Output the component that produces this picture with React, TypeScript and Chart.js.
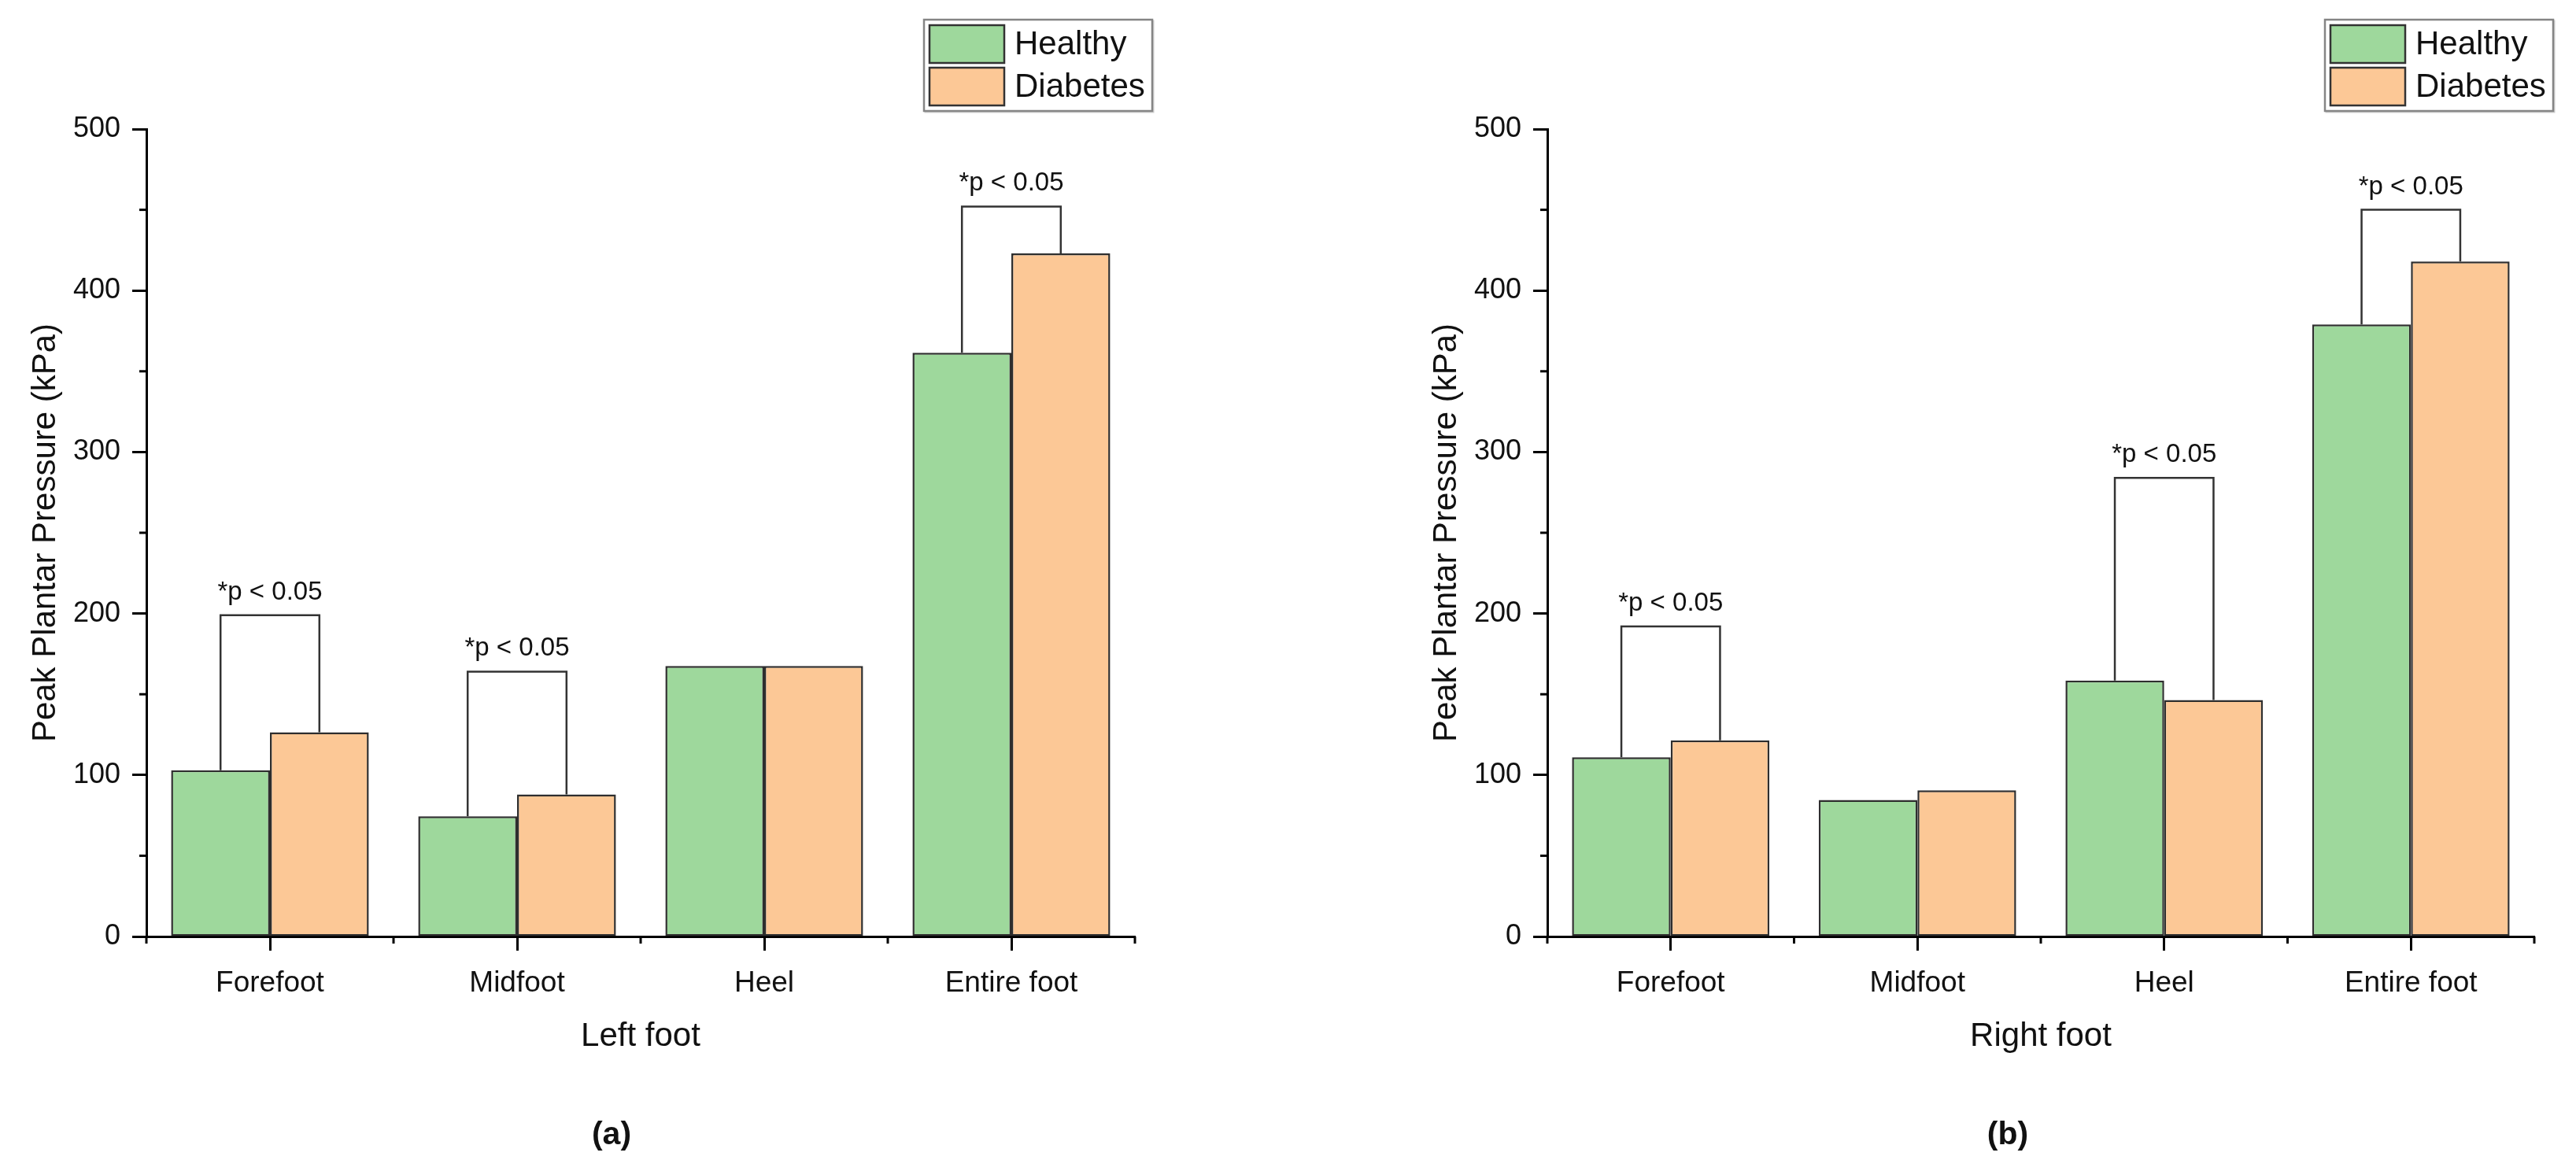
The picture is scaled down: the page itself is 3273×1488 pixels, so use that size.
import React, { useEffect, useRef } from "react";
import { Chart, registerables } from "chart.js";

Chart.register(...registerables);

// ---------- data ----------
const categories = ["Forefoot", "Midfoot", "Heel", "Entire foot"];
const seriesNames = ["Healthy", "Diabetes"];
const leftHealthy = [103, 74.5, 167.5, 361.5];
const leftDiabetes = [126.5, 88, 167.5, 423];
const leftBrackets: (number | null)[] = [199, 164, null, 452];
const rightHealthy = [111, 84.5, 158.5, 379];
const rightDiabetes = [121.5, 90.5, 146.5, 418];
const rightBrackets: (number | null)[] = [192, null, 284, 450];
const yTicks = [0, 100, 200, 300, 400, 500];
const sigLabel = "*p < 0.05";
const xTitles = ["Left foot", "Right foot"];
const panelTags = ["(a)", "(b)"];
const yTitle = "Peak Plantar Pressure (kPa)";

// ---------- style ----------
const FONT = "'Liberation Sans', Arial, sans-serif";
const GREEN = "#9ED89C";
const ORANGE = "#FCC896";
const BAR_BORDER = "#2e2e2e";
const TEXT = "#111111";

function makeConfig(
  healthy: number[],
  diabetes: number[],
  brackets: (number | null)[],
  xTitle: string,
  padRight: number
): any {
  const extras = {
    id: "extras",
    afterDatasetsDraw(chart: any) {
      const ctx = chart.ctx;
      const y = chart.scales.y;
      const m0 = chart.getDatasetMeta(0);
      const m1 = chart.getDatasetMeta(1);
      ctx.save();
      ctx.strokeStyle = "#333";
      ctx.lineWidth = 2.5;
      ctx.fillStyle = TEXT;
      ctx.font = `33px ${FONT}`;
      ctx.textAlign = "center";
      ctx.textBaseline = "alphabetic";
      brackets.forEach((b, j) => {
        if (b == null) return;
        const a = m0.data[j];
        const c = m1.data[j];
        const top = y.getPixelForValue(b);
        ctx.beginPath();
        ctx.moveTo(a.x, a.y);
        ctx.lineTo(a.x, top);
        ctx.lineTo(c.x, top);
        ctx.lineTo(c.x, c.y);
        ctx.stroke();
        ctx.fillText(sigLabel, (a.x + c.x) / 2, top - 20);
      });
      ctx.restore();
    },
    afterDraw(chart: any) {
      const ctx = chart.ctx;
      const { left, bottom } = chart.chartArea;
      const x = chart.scales.x;
      const y = chart.scales.y;
      ctx.save();
      ctx.strokeStyle = "#000";
      ctx.lineWidth = 3;
      // minor y ticks
      for (let k = 0; k < yTicks.length - 1; k++) {
        const py = y.getPixelForValue((yTicks[k] + yTicks[k + 1]) / 2);
        ctx.beginPath();
        ctx.moveTo(left - 9, py);
        ctx.lineTo(left, py);
        ctx.stroke();
      }
      // minor x ticks at category boundaries
      for (let j = 0; j <= categories.length; j++) {
        const px = x.getPixelForValue(j - 0.5);
        ctx.beginPath();
        ctx.moveTo(px, bottom);
        ctx.lineTo(px, bottom + 9);
        ctx.stroke();
      }
      // legend
      const L = left + 988;
      const T = 25;
      const W = 290;
      const H = 116;
      ctx.strokeStyle = "#d0d0d0";
      ctx.lineWidth = 2;
      ctx.strokeRect(L + 1.5, T + 1.5, W, H);
      ctx.strokeStyle = "#858585";
      ctx.lineWidth = 2.5;
      ctx.fillStyle = "#fff";
      ctx.fillRect(L, T, W, H);
      ctx.strokeRect(L, T, W, H);
      chart.data.datasets.forEach((ds: any, i: number) => {
        const sy = T + 7 + i * 54;
        ctx.fillStyle = ds.backgroundColor;
        ctx.fillRect(L + 7, sy, 95, 48);
        ctx.strokeStyle = "#333";
        ctx.lineWidth = 2.5;
        ctx.strokeRect(L + 7, sy, 95, 48);
        ctx.fillStyle = TEXT;
        ctx.font = `42px ${FONT}`;
        ctx.textAlign = "left";
        ctx.textBaseline = "middle";
        ctx.fillText(ds.label, L + 115, sy + 25);
      });
      ctx.restore();
    },
  };

  return {
    type: "bar",
    data: {
      labels: categories,
      datasets: [
        {
          label: seriesNames[0],
          data: healthy,
          backgroundColor: GREEN,
          borderColor: BAR_BORDER,
          borderWidth: 2.5,
          borderSkipped: false,
        },
        {
          label: seriesNames[1],
          data: diabetes,
          backgroundColor: ORANGE,
          borderColor: BAR_BORDER,
          borderWidth: 2.5,
          borderSkipped: false,
        },
      ],
    },
    options: {
      responsive: false,
      animation: false,
      devicePixelRatio: 1,
      layout: { padding: { top: 164, left: 0, right: padRight, bottom: 128 } },
      datasets: { bar: { categoryPercentage: 0.8, barPercentage: 1.0 } },
      plugins: { legend: { display: false }, tooltip: { enabled: false }, title: { display: false } },
      scales: {
        x: {
          type: "category",
          offset: true,
          afterFit: (s: any) => {
            s.height = 170;
          },
          grid: {
            offset: false,
            drawOnChartArea: false,
            drawTicks: true,
            tickLength: 18,
            tickWidth: 3,
            tickColor: "#000",
          },
          border: { display: true, color: "#000", width: 3 },
          ticks: { color: TEXT, padding: 20, font: { family: FONT, size: 37 } },
          title: {
            display: true,
            text: xTitle,
            color: TEXT,
            font: { family: FONT, size: 42 },
            padding: { top: 0, bottom: 17 },
          },
        },
        y: {
          min: 0,
          max: 500,
          afterFit: (s: any) => {
            s.width = 186;
          },
          afterBuildTicks: (s: any) => {
            s.ticks = yTicks.map((v) => ({ value: v }));
          },
          grid: {
            drawOnChartArea: false,
            drawTicks: true,
            tickLength: 18,
            tickWidth: 3,
            tickColor: "#000",
          },
          border: { display: true, color: "#000", width: 3 },
          ticks: { color: TEXT, padding: 15, font: { family: FONT, size: 36 } },
          title: {
            display: true,
            text: yTitle,
            color: TEXT,
            font: { family: FONT, size: 42 },
            padding: { top: 33, bottom: 0 },
          },
        },
      },
    },
    plugins: [extras],
  };
}

function Panel(props: {
  left: number;
  width: number;
  healthy: number[];
  diabetes: number[];
  brackets: (number | null)[];
  xTitle: string;
  padRight: number;
}) {
  const ref = useRef<HTMLCanvasElement | null>(null);
  useEffect(() => {
    if (!ref.current) return;
    const chart = new Chart(
      ref.current,
      makeConfig(props.healthy, props.diabetes, props.brackets, props.xTitle, props.padRight)
    );
    return () => chart.destroy();
  }, []);
  return (
    <canvas
      ref={ref}
      width={props.width}
      height={1488}
      style={{
        position: "absolute",
        left: props.left,
        top: 0,
        width: props.width,
        height: 1488,
        display: "block",
      }}
    />
  );
}

export default function App() {
  useEffect(() => {
    document.body.style.margin = "0";
    document.body.style.background = "#fff";
  }, []);
  const tagStyle = (cx: number): React.CSSProperties => ({
    position: "absolute",
    left: cx,
    top: 1440,
    transform: "translate(-50%, -50%)",
    fontFamily: FONT,
    fontWeight: "bold",
    fontSize: 41,
    lineHeight: 1,
    color: TEXT,
    whiteSpace: "nowrap",
  });
  return (
    <div
      style={{
        position: "relative",
        width: 3273,
        height: 1488,
        overflow: "hidden",
        background: "#fff",
      }}
    >
      <Panel
        left={0}
        width={1636}
        healthy={leftHealthy}
        diabetes={leftDiabetes}
        brackets={leftBrackets}
        xTitle={xTitles[0]}
        padRight={194}
      />
      <Panel
        left={1780}
        width={1493}
        healthy={rightHealthy}
        diabetes={rightDiabetes}
        brackets={rightBrackets}
        xTitle={xTitles[1]}
        padRight={53}
      />
      <div style={tagStyle(777)}>{panelTags[0]}</div>
      <div style={tagStyle(2551)}>{panelTags[1]}</div>
    </div>
  );
}
